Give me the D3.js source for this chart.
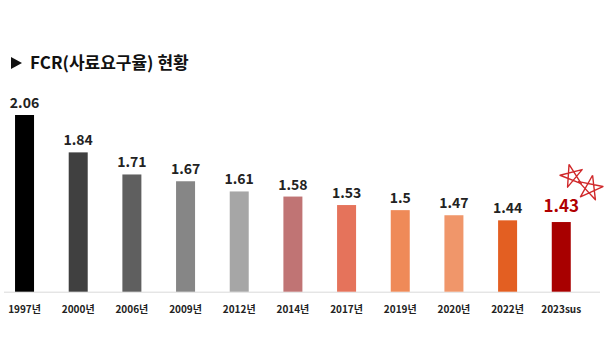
<!DOCTYPE html>
<html><head><meta charset="utf-8">
<script src="https://cdn.jsdelivr.net/npm/d3@7"></script>
<style>body{margin:0;background:#fff}svg{display:block}</style>
</head><body>
<svg id="c" width="610" height="362"></svg>
<script>
const categories = ["1997년","2000년","2006년","2009년","2012년","2014년","2017년","2019년","2020년","2022년","2023sus"];
const values = [2.06,1.84,1.71,1.67,1.61,1.58,1.53,1.5,1.47,1.44,1.43];
const labels = ["2.06","1.84","1.71","1.67","1.61","1.58","1.53","1.5","1.47","1.44","1.43"];
const colors = ["#000000","#404040","#5f5f5f","#868686","#a6a6a6","#c07474","#e5735b","#ef8a58","#f0966a","#e35f22","#a80000"];
const title = "FCR(사료요구율) 현황";

const svg = d3.select("#c");
const font = "'Noto Sans CJK KR','Noto Sans',sans-serif";
const base = 291.7;
const x = d3.scaleBand().domain(categories).range([-2.3, 588.1]).paddingInner(0.646).paddingOuter(0.323);
const y = d3.scaleLinear().domain([1.02, 2.06]).range([base, 115]);

// title
svg.append("path").attr("d","M11,57 L11,69 L22,63 Z").attr("fill","#111");
svg.append("text").attr("x",30).attr("y",68.5).text(title)
  .attr("font-family",font).attr("font-weight","bold").attr("font-size",17).attr("fill","#111");

// axis line
svg.append("line").attr("x1",4).attr("x2",600).attr("y1",base+0.5).attr("y2",base+0.5)
  .attr("stroke","#d9d9d9").attr("stroke-width",1);

const n = categories.length;
svg.selectAll("rect.bar").data(values).join("rect").attr("class","bar")
  .attr("x",(d,i)=>x(categories[i])).attr("width",x.bandwidth())
  .attr("y",d=>y(d)).attr("height",d=>base-y(d)).attr("fill",(d,i)=>colors[i]);

svg.selectAll("text.val").data(values).join("text").attr("class","val")
  .attr("x",(d,i)=>x(categories[i])+x.bandwidth()/2)
  .attr("y",(d,i)=>y(d)-(i===n-1?10:7))
  .attr("text-anchor","middle").attr("font-family",font).attr("font-weight","bold")
  .attr("font-size",(d,i)=>i===n-1?17:14).attr("fill",(d,i)=>i===n-1?"#b00000":"#222")
  .text((d,i)=>labels[i]);

svg.selectAll("text.cat").data(categories).join("text").attr("class","cat")
  .attr("x",d=>x(d)+x.bandwidth()/2).attr("y",313)
  .attr("text-anchor","middle").attr("font-family",font).attr("font-weight","bold")
  .attr("font-size",10).attr("fill","#222").text(d=>d);

// hand-drawn stars
function star(cx,cy,r,rot){
  const pts=[];
  for(let k=0;k<5;k++){const a=rot+(-90+k*144)*Math.PI/180;pts.push([cx+r*Math.cos(a),cy+r*Math.sin(a)]);}
  pts.push(pts[0]);
  return d3.line()(pts);
}
svg.append("path").attr("d",star(572,176,12,-0.25)).attr("fill","none").attr("stroke","#d0282a").attr("stroke-width",1.4).attr("stroke-linejoin","round");
svg.append("path").attr("d",star(590,188,13,0.2)).attr("fill","none").attr("stroke","#d0282a").attr("stroke-width",1.4).attr("stroke-linejoin","round");
</script>
</body></html>
